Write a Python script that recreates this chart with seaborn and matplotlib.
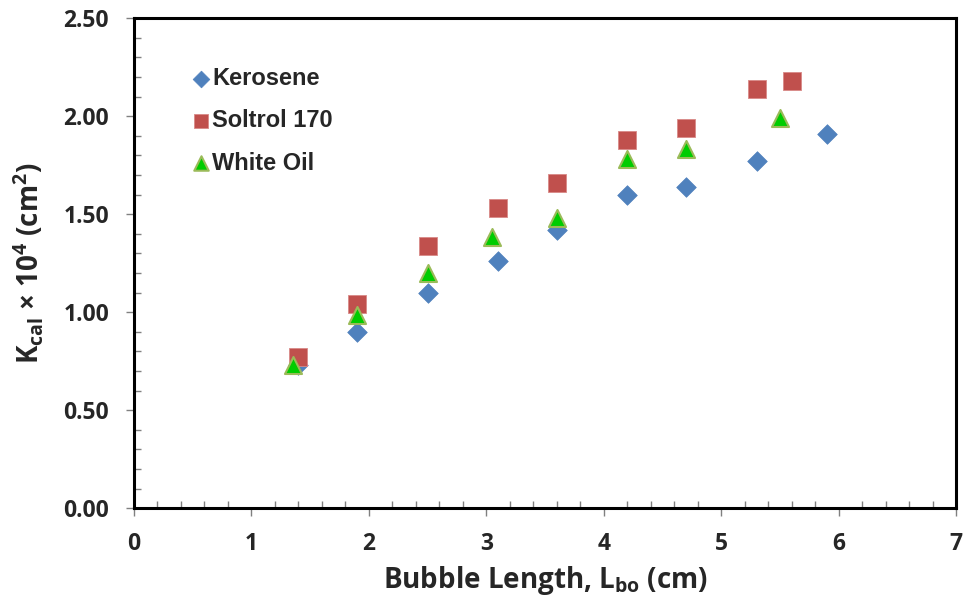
import matplotlib
matplotlib.use("Agg")
import matplotlib.pyplot as plt
import seaborn as sns
import pandas as pd
from matplotlib.ticker import MultipleLocator, FormatStrFormatter

# ---- data ----
kero_x = [1.4, 1.9, 2.5, 3.1, 3.6, 4.2, 4.7, 5.3, 5.9]
kero_y = [0.73, 0.90, 1.10, 1.26, 1.42, 1.60, 1.64, 1.77, 1.91]
solt_x = [1.4, 1.9, 2.5, 3.1, 3.6, 4.2, 4.7, 5.3, 5.6]
solt_y = [0.77, 1.04, 1.34, 1.53, 1.66, 1.88, 1.94, 2.14, 2.18]
wo_x = [1.35, 1.9, 2.5, 3.05, 3.6, 4.2, 4.7, 5.5]
wo_y = [0.73, 0.985, 1.20, 1.385, 1.48, 1.78, 1.83, 1.99]
series_names = ["Kerosene", "Soltrol 170", "White Oil"]

sns.set_theme(style="white")
FONT = "Open Sans"
plt.rcParams["font.family"] = [FONT, "DejaVu Sans"]
plt.rcParams["font.weight"] = "bold"
plt.rcParams["axes.labelweight"] = "bold"
plt.rcParams["mathtext.fontset"] = "custom"
plt.rcParams["mathtext.rm"] = FONT + ":bold"
plt.rcParams["mathtext.it"] = FONT + ":bold"
plt.rcParams["mathtext.bf"] = FONT + ":bold"

fig = plt.figure(figsize=(9.64, 6.05), dpi=100)
ax = fig.add_axes([0.139, 0.160, 0.853, 0.810])

d1 = pd.DataFrame({"x": kero_x, "y": kero_y})
d2 = pd.DataFrame({"x": solt_x, "y": solt_y})
d3 = pd.DataFrame({"x": wo_x, "y": wo_y})

sns.scatterplot(data=d1, x="x", y="y", ax=ax, marker="D", s=100,
                color="#4F81BD", edgecolor="#4F81BD", linewidth=0.5,
                label=series_names[0], zorder=3)
sns.scatterplot(data=d2, x="x", y="y", ax=ax, marker="s", s=150,
                color="#C0504D", edgecolor="#D98A88", linewidth=0.6,
                label=series_names[1], zorder=3)
sns.scatterplot(data=d3, x="x", y="y", ax=ax, marker="^", s=150,
                color="#00CC00", edgecolor="#9BBB59", linewidth=1.5,
                label=series_names[2], zorder=4)

ax.set_xlim(0, 7)
ax.set_ylim(0, 2.5)
ax.xaxis.set_major_locator(MultipleLocator(1))
ax.xaxis.set_minor_locator(MultipleLocator(0.2))
ax.yaxis.set_major_locator(MultipleLocator(0.5))
ax.yaxis.set_minor_locator(MultipleLocator(0.1))
ax.yaxis.set_major_formatter(FormatStrFormatter("%.2f"))

for sp in ax.spines.values():
    sp.set_color("black")
    sp.set_linewidth(2.2)

ax.tick_params(which="major", direction="out", length=6, width=1,
               color="#808080", labelsize=16.5, bottom=True, left=True)
ax.tick_params(axis="x", which="major", pad=11)
ax.tick_params(axis="y", which="major", pad=12)
ax.tick_params(which="minor", direction="in", length=5, width=1,
               color="#808080", bottom=True, left=True)

ax.set_xlabel(r"Bubble Length, L$_{bo}$ (cm)", fontsize=20,
              fontweight="bold", labelpad=6)
ax.set_ylabel(r"K$_{cal}$ × 10$^{4}$ (cm$^{2}$)", fontsize=20,
              fontweight="bold", labelpad=12)

leg = ax.legend(loc="upper left", bbox_to_anchor=(0.058, 0.92),
                frameon=False, handletextpad=0.1, labelspacing=0.82,
                handlelength=0.8, borderaxespad=0, markerscale=0.85,
                prop={"family": "Liberation Sans", "weight": "bold", "size": 17})

fig.savefig("out.png", dpi=100)
